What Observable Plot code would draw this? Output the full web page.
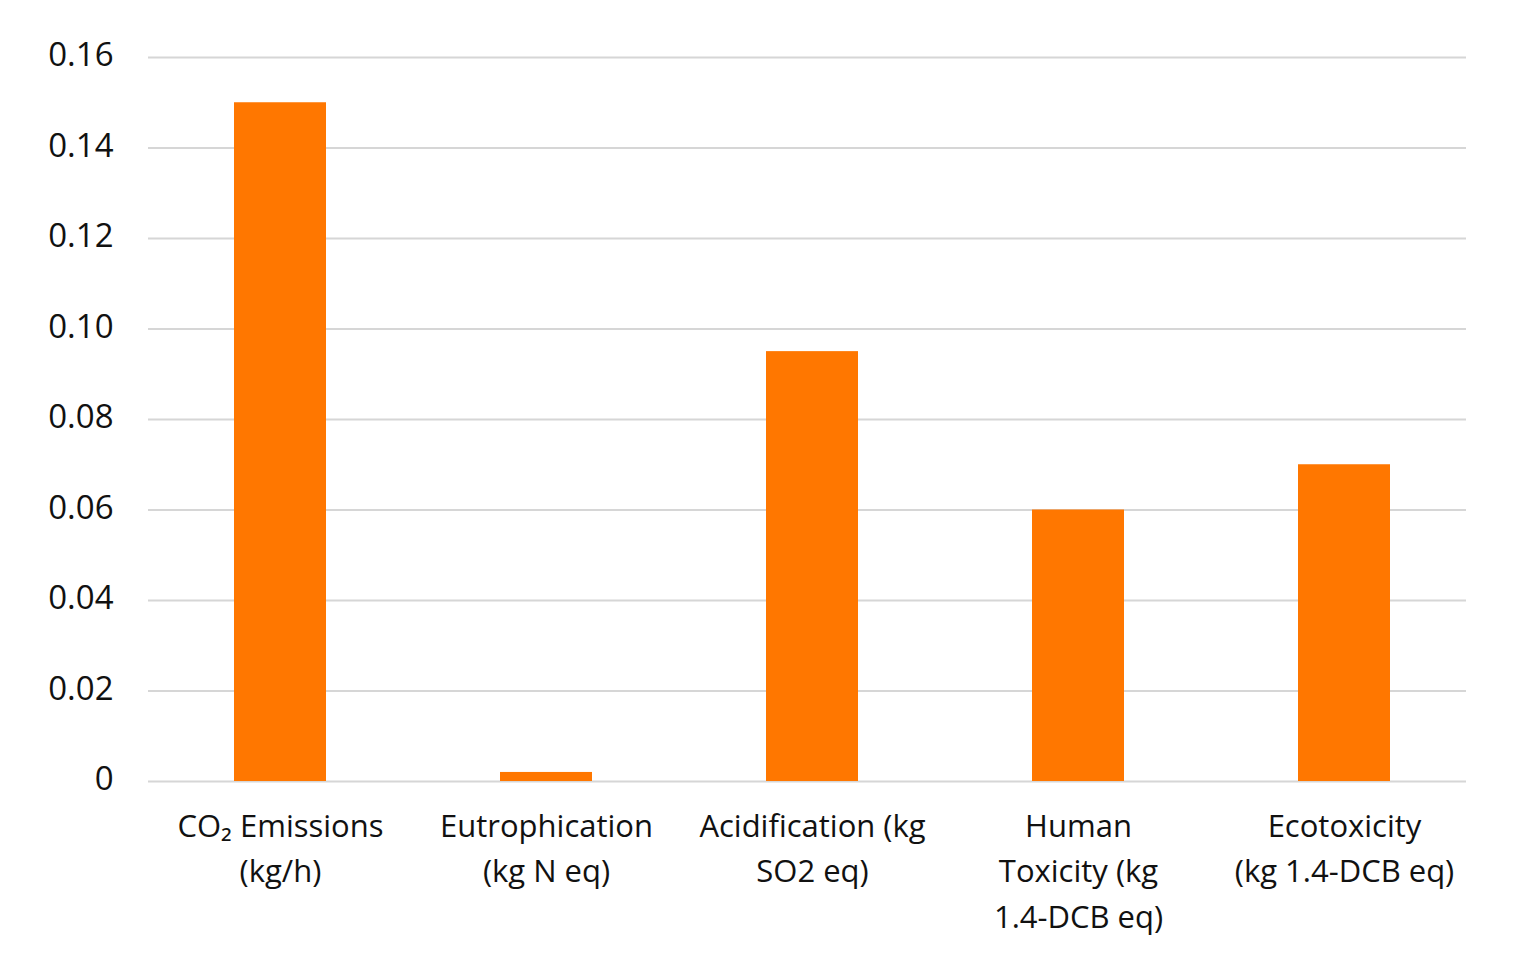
<!DOCTYPE html>
<html>
<head>
<meta charset="utf-8">
<script src="https://cdn.jsdelivr.net/npm/d3@7"></script>
<script src="https://cdn.jsdelivr.net/npm/@observablehq/plot@0.6"></script>
<style>
  html, body { margin: 0; padding: 0; background: #ffffff; }
  #chart svg { display: block; }
</style>
</head>
<body>
<div id="chart"></div>
<script>
const categories = ["CO2", "Eutrophication", "Acidification", "Human Toxicity", "Ecotoxicity"];
const values = [0.15, 0.002, 0.095, 0.060, 0.070];
const categoryLabels = [
  "CO₂ Emissions\n(kg/h)",
  "Eutrophication\n(kg N eq)",
  "Acidification (kg\nSO2 eq)",
  "Human\nToxicity (kg\n1.4-DCB eq)",
  "Ecotoxicity\n(kg 1.4-DCB eq)"
];
const yTicks = [0, 0.02, 0.04, 0.06, 0.08, 0.10, 0.12, 0.14, 0.16];
const yTickLabels = ["0", "0.02", "0.04", "0.06", "0.08", "0.10", "0.12", "0.14", "0.16"];

const data = categories.map((c, i) => ({category: c, value: values[i], label: categoryLabels[i]}));
const labelOf = new Map(data.map(d => [d.category, d.label]));
const tickLabelOf = new Map(yTicks.map((t, i) => [t, yTickLabels[i]]));

const chart = Plot.plot({
  width: 1516,
  height: 970,
  marginLeft: 148,
  marginRight: 50,
  marginTop: 57,
  marginBottom: 189,
  style: {fontFamily: "'Open Sans', sans-serif", background: "#ffffff", color: "#111"},
  x: {domain: categories, range: [146, 1478], paddingInner: 0.655, paddingOuter: 0.3275, align: 0.5},
  y: {domain: [0, 0.16]},
  marks: [
    Plot.ruleY(yTicks, {stroke: "#d6d6d6", strokeWidth: 2, strokeOpacity: 1}),
    Plot.barY(data, {x: "category", y: "value", fill: "#ff7700"}),
    Plot.axisY({
      ticks: yTicks,
      tickSize: 0,
      tickPadding: 35,
      tickFormat: t => tickLabelOf.get(t),
      fontSize: 33,
      fill: "#111",
      dy: -2,
      label: null
    }),
    Plot.axisX({
      tickSize: 0,
      tickPadding: 23,
      tickFormat: c => labelOf.get(c),
      fontSize: 31,
      lineHeight: 1.47,
      fill: "#111",
      label: null
    })
  ]
});
document.getElementById("chart").appendChild(chart);
</script>
</body>
</html>
